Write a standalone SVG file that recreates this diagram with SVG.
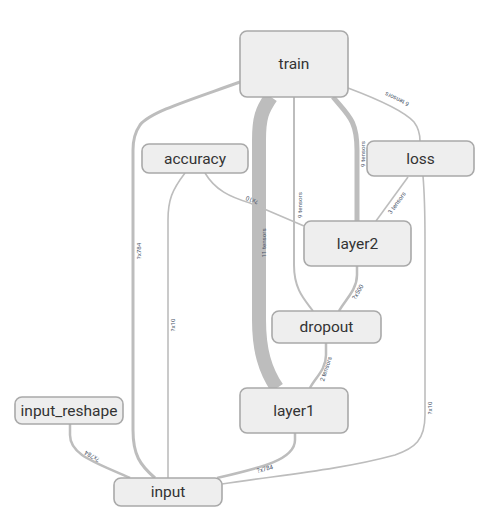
<svg xmlns="http://www.w3.org/2000/svg" width="488" height="521" viewBox="0 0 488 521">
<style>
.node rect{fill:#eeeeee;stroke:#a9a9a9;stroke-width:1.6}
.node text{font-family:Roboto,"Liberation Sans",sans-serif;font-size:15.5px;fill:#333;text-anchor:middle;dominant-baseline:central}
.edge{fill:none;stroke:#bdbdbd;stroke-linecap:butt}
.lbl{font-family:Roboto,"Liberation Sans",sans-serif;font-size:6.2px;fill:#4c566a;text-anchor:middle;dominant-baseline:central}
</style>
<rect width="488" height="521" fill="#ffffff"/>
<g id="connectors">
<path class="edge" stroke-width="3" d="M240,82 C190,100 150,112 140,125 Q133,135 133,150 L133,430 C133,455 140,465 155,478"/>
<path class="edge" stroke-width="14" d="M271,97 C262,110 259,118 259,140 L259,320 C259,350 265,370 277,388"/>
<path class="edge" stroke-width="2" d="M294,97 L294,265 C294,290 305,300 313,311"/>
<path class="edge" stroke-width="5" d="M333,97 C348,115 357,120 357,150 L357,221"/>
<path class="edge" stroke-width="1.6" d="M348,88 C380,100 405,112 414,122 Q420,130 420,141"/>
<path class="edge" stroke-width="1.6" d="M185,173 C172,190 168,200 168,220 L168,478"/>
<path class="edge" stroke-width="1.6" d="M205,173 C215,190 230,197 250,203 L304,226"/>
<path class="edge" stroke-width="1.6" d="M408,177 L376,221"/>
<path class="edge" stroke-width="1.6" d="M423,176 C425,200 425,220 425,240 L425,415 C425,440 415,448 395,455 C340,470 280,475 222,484"/>
<path class="edge" stroke-width="2.5" d="M357,266 L357,275 C357,290 345,300 339,311"/>
<path class="edge" stroke-width="2.5" d="M326,343 L326,355 C326,370 315,378 310,388"/>
<path class="edge" stroke-width="2.5" d="M295,433 L295,440 C295,460 260,468 217,478"/>
<path class="edge" stroke-width="2.5" d="M70,424 L70,435 C70,455 95,462 130,478"/>
<text class="lbl" transform="translate(138.5,251) rotate(-90)">?x784</text>
<text class="lbl" transform="translate(264,243) rotate(-90)">11 tensors</text>
<text class="lbl" transform="translate(300,205) rotate(-90)">9 tensors</text>
<text class="lbl" transform="translate(363,154) rotate(-90)">9 tensors</text>
<text class="lbl" transform="translate(397,99) rotate(205)">6 tensors</text>
<text class="lbl" transform="translate(252,200) rotate(202)">?x10</text>
<text class="lbl" transform="translate(173,325) rotate(-90)">?x10</text>
<text class="lbl" transform="translate(397,203) rotate(-54)">3 tensors</text>
<text class="lbl" transform="translate(429.5,408) rotate(-90)">?x10</text>
<text class="lbl" transform="translate(358,292) rotate(-60)">?x500</text>
<text class="lbl" transform="translate(326,369) rotate(-72)">2 tensors</text>
<text class="lbl" transform="translate(265,469) rotate(-15)">?x784</text>
<text class="lbl" transform="translate(92,456) rotate(210)">?x784</text>
</g>
<g id="train" class="node"><rect x="240" y="31" width="108" height="66" rx="7"/><text x="294" y="64">train</text></g>
<g id="accuracy" class="node"><rect x="142" y="144" width="106" height="29" rx="7"/><text x="195" y="158.5">accuracy</text></g>
<g id="loss" class="node"><rect x="367" y="141" width="107" height="35" rx="7"/><text x="420.5" y="158.5">loss</text></g>
<g id="layer2" class="node"><rect x="304" y="221" width="107" height="45" rx="7"/><text x="357.5" y="243.5">layer2</text></g>
<g id="dropout" class="node"><rect x="272" y="311" width="109" height="32" rx="7"/><text x="326.5" y="327">dropout</text></g>
<g id="layer1" class="node"><rect x="240" y="388" width="108" height="45" rx="7"/><text x="294" y="410.5">layer1</text></g>
<g id="input_reshape" class="node"><rect x="15" y="397" width="108" height="27" rx="7"/><text x="69" y="410.5">input_reshape</text></g>
<g id="input" class="node"><rect x="114" y="478" width="108" height="28" rx="7"/><text x="168" y="492">input</text></g>
</svg>
